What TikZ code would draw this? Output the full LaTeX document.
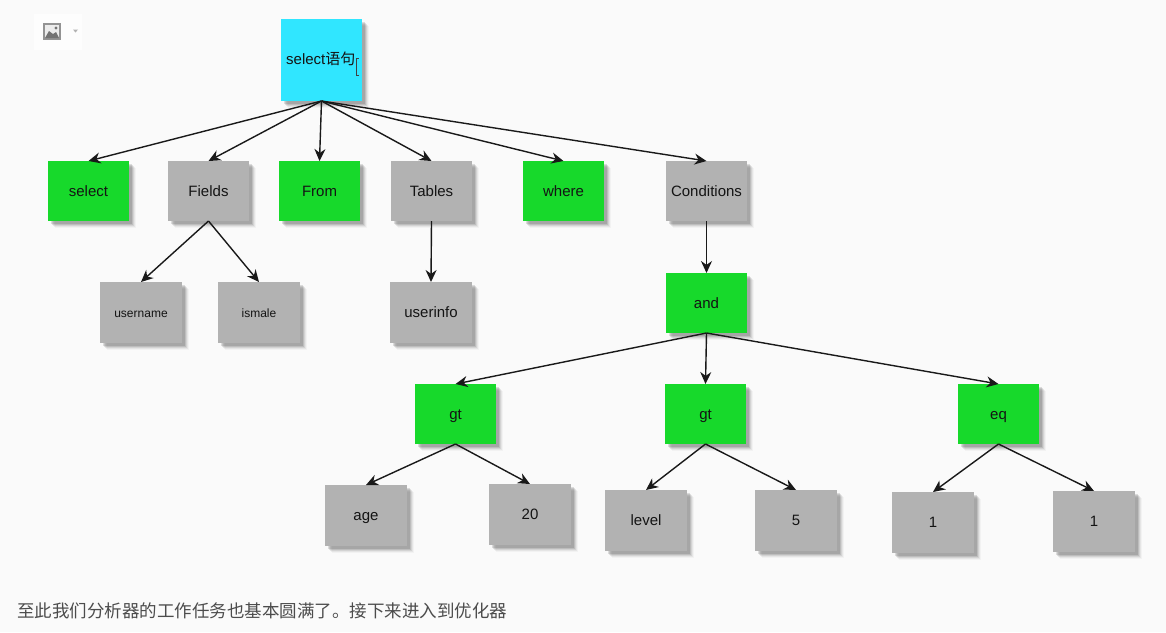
\documentclass[tikz,border=0pt]{standalone}
\usepackage{fontspec}
\setmainfont{Liberation Sans}
\newfontfamily\cjk{Noto Sans CJK SC}
\usetikzlibrary{shadows,arrows.meta}
\definecolor{bgc}{HTML}{FAFAFA}
\definecolor{nodegreen}{HTML}{17D92B}
\definecolor{nodegray}{HTML}{B2B2B2}
\definecolor{nodecyan}{HTML}{30E6FF}
\definecolor{txt}{HTML}{141414}
\tikzset{
 boxbase/.style={anchor=north west,inner sep=0pt,outer sep=0pt,text=txt,font=\fontsize{15}{16}\selectfont,align=center,
   text height=11.5pt,text depth=1pt,
   general shadow={shadow xshift=7pt,shadow yshift=-7pt,fill=black,opacity=.03},
   general shadow={shadow xshift=6pt,shadow yshift=-6pt,fill=black,opacity=.05},
   general shadow={shadow xshift=5pt,shadow yshift=-5pt,fill=black,opacity=.08},
   general shadow={shadow xshift=4pt,shadow yshift=-4pt,fill=black,opacity=.10},
   general shadow={shadow xshift=3pt,shadow yshift=-3pt,fill=black,opacity=.12}},
 greenbox/.style={boxbase,fill=nodegreen,minimum width=81pt,minimum height=60pt},
 graybox/.style={boxbase,fill=nodegray,minimum width=81pt,minimum height=60pt},
 leafbox/.style={boxbase,fill=nodegray,minimum width=82pt,minimum height=61pt},
 link/.style={draw=black!90,line width=1.4pt,-{Stealth[length=12pt,width=11pt]}},
}
\begin{document}
\begin{tikzpicture}[x=1pt,y=-1pt]
\path[use as bounding box,fill=bgc] (0,0) rectangle (1166,632);
\fill[white!60!bgc] (34,14) rectangle (82,50);
% image icon
\node[anchor=north west,inner sep=0pt,fill=gray!85,minimum width=18pt,minimum height=17pt] (icon) at (43,23) {};
\fill[white!85!gray] (45,25) rectangle (59,38);
\fill[gray!90!black] (45,38) -- (49,31) -- (53,34) -- (56,32) -- (59,38) -- cycle;
\fill[gray!90!black] (56,28) circle (1.6);
\fill[gray!60] (73,29.5) -- (78,29.5) -- (75.5,32.5) -- cycle;
% root
\node[boxbase,fill=nodecyan,minimum width=81pt,minimum height=82pt] (root) at (281,19) {};
\node[anchor=west,inner sep=0pt,text=txt,font=\fontsize{15}{16}\selectfont] (roottext) at (286,59) {select{\cjk 语句}};
\draw[black!75,line width=.9pt] (358.5,58) -- (356.5,58) -- (356.5,75) -- (358.5,75);
% level 1
\node[greenbox] (select) at (48,161) {select};
\node[graybox] (fields) at (168,161) {Fields};
\node[greenbox] (from) at (279,161) {From};
\node[graybox] (tables) at (391,161) {Tables};
\node[greenbox] (where) at (523,161) {where};
\node[graybox] (cond) at (666,161) {Conditions};
% level 2
\node[leafbox,font=\fontsize{12}{13}\selectfont] (username) at (100,282) {username};
\node[leafbox,font=\fontsize{12}{13}\selectfont] (ismale) at (218,282) {ismale};
\node[leafbox] (userinfo) at (390,282) {userinfo};
\node[greenbox] (and) at (666,273) {and};
% level 3
\node[greenbox] (gt1) at (415,384) {gt};
\node[greenbox] (gt2) at (665,384) {gt};
\node[greenbox] (eq) at (958,384) {eq};
% leaves
\node[leafbox] (age) at (325,485) {age};
\node[leafbox] (twenty) at (489,484) {20};
\node[leafbox] (level) at (605,490) {level};
\node[leafbox] (five) at (755,490) {5};
\node[leafbox] (oneA) at (892,492) {1};
\node[leafbox] (oneB) at (1053,491) {1};
% connectors
\foreach \t in {select,fields,from,tables,where,cond} \draw[link] (root.south) -- (\t.north);
\draw[link] (fields.south) -- (username.north);
\draw[link] (fields.south) -- (ismale.north);
\draw[link] (tables.south) -- (userinfo.north);
\draw[link] (cond.south) -- (and.north);
\foreach \t in {gt1,gt2,eq} \draw[link] (and.south) -- (\t.north);
\draw[link] (gt1.south) -- (age.north);
\draw[link] (gt1.south) -- (twenty.north);
\draw[link] (gt2.south) -- (level.north);
\draw[link] (gt2.south) -- (five.north);
\draw[link] (eq.south) -- (oneA.north);
\draw[link] (eq.south) -- (oneB.north);
% caption
\node[anchor=west,inner sep=0pt,text=black!70,font=\cjk\fontsize{17.5}{20}\selectfont] (caption) at (17,611) {至此我们分析器的工作任务也基本圆满了。接下来进入到优化器};
\end{tikzpicture}
\end{document}
